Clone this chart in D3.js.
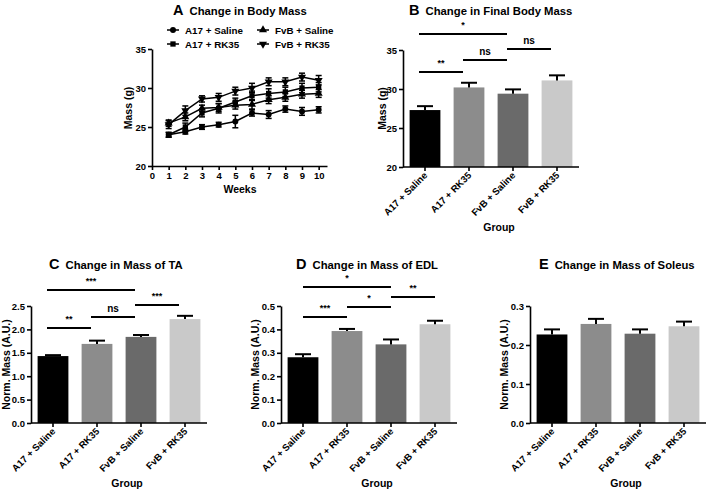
<!DOCTYPE html>
<html><head><meta charset="utf-8">
<script src="https://cdn.jsdelivr.net/npm/d3@7"></script>
<style>
body{margin:0;background:#fff;}
svg{display:block;font-family:"Liberation Sans",Arial,sans-serif;}
text{font-weight:bold;fill:#000;}
</style></head><body>
<svg id="chart" width="709" height="490"></svg>
<script>
// ---------- DATA ----------
const weeks = [1,2,3,4,5,6,7,8,9,10];
const weekTicks = [0,1,2,3,4,5,6,7,8,9,10];
const massTicks = [20,25,30,35];
const seriesNames = ["A17 + Saline","A17 + RK35","FvB + Saline","FvB + RK35"];
const a17Saline = [24.0,24.4,25.0,25.3,25.7,26.8,26.6,27.3,27.0,27.2];
const a17SalineErr = [0.3,0.3,0.3,0.3,0.8,0.4,0.5,0.4,0.5,0.4];
const a17Rk35 = [24.0,25.0,26.8,27.4,28.2,29.0,29.3,29.5,30.0,30.1];
const a17Rk35Err = [0.3,0.5,0.5,0.6,0.5,0.6,0.6,0.6,0.6,0.6];
const fvbSaline = [25.5,26.3,27.4,27.5,27.8,27.9,28.5,28.8,29.2,29.3];
const fvbSalineErr = [0.4,0.5,0.4,0.5,0.5,0.6,0.5,0.5,0.5,0.5];
const fvbRk35 = [25.3,27.1,28.6,28.8,29.6,30.0,30.8,30.8,31.4,31.0];
const fvbRk35Err = [0.5,0.6,0.4,0.5,0.5,0.6,0.5,0.5,0.5,0.6];

const groups = ["A17 + Saline","A17 + RK35","FvB + Saline","FvB + RK35"];
const finalMass = [27.3,30.2,29.4,31.1];
const finalMassErr = [0.5,0.6,0.55,0.65];
const taMass = [1.43,1.69,1.84,2.22];
const taMassErr = [0.02,0.07,0.04,0.07];
const taTicks = [0.0,0.5,1.0,1.5,2.0,2.5];
const edlMass = [0.281,0.393,0.336,0.422];
const edlMassErr = [0.013,0.009,0.021,0.015];
const edlTicks = [0.0,0.1,0.2,0.3,0.4,0.5];
const soleusMass = [0.227,0.254,0.229,0.248];
const soleusMassErr = [0.013,0.013,0.011,0.012];
const soleusTicks = [0.0,0.1,0.2,0.3];
// significance: [from group index, to group index, label]
const sigB = [[0,2,"*"],[0,1,"**"],[1,2,"ns"],[2,3,"ns"]];
const sigC = [[0,2,"***"],[0,1,"**"],[1,2,"ns"],[2,3,"***"]];
const sigD = [[0,2,"*"],[0,1,"***"],[1,2,"*"],[2,3,"**"]];
const sigE = [];
const barColors = ["#000000","#8c8c8c","#6a6a6a","#c9c9c9"];

const svg = d3.select("#chart");

function title(x, y, letter, txt){
  const t = svg.append("text").attr("x",x).attr("y",y);
  t.append("tspan").attr("font-size",14.5).text(letter);
  t.append("tspan").attr("font-size",11.3).attr("dx",6).text(txt);
}

// ---------- PANEL A ----------
(function(){
  const x = d3.scaleLinear().domain([0,10.5]).range([152,327]);
  const y = d3.scaleLinear().domain([20,35]).range([166,49]);
  const g = svg.append("g");
  const xa = g.append("g").attr("transform","translate(0,166)")
    .call(d3.axisBottom(x).tickValues(weekTicks).tickSize(4).tickPadding(2).tickSizeOuter(0));
  const ya = g.append("g").attr("transform","translate(152,0)")
    .call(d3.axisLeft(y).tickValues(massTicks).tickSize(4).tickPadding(2).tickSizeOuter(0));
  [xa,ya].forEach(a=>{a.selectAll("path,line").attr("stroke","#000").attr("stroke-width",1.6);
    a.selectAll("text").attr("font-size",9.5).attr("font-weight","bold").attr("font-family","Liberation Sans, Arial");});
  g.append("text").attr("x",240).attr("y",193).attr("text-anchor","middle").attr("font-size",10.5).text("Weeks");
  g.append("text").attr("transform","translate(132,108) rotate(-90)").attr("text-anchor","middle").attr("font-size",10.5).text("Mass (g)");
  title(173,15,"A","Change in Body Mass");

  const series = [[a17Saline,a17SalineErr],[a17Rk35,a17Rk35Err],[fvbSaline,fvbSalineErr],[fvbRk35,fvbRk35Err]];
  const syms = [d3.symbolCircle,d3.symbolSquare,d3.symbolTriangle,d3.symbolTriangle];
  const rots = [0,0,0,180];
  const line = d3.line().x((d,i)=>x(weeks[i])).y(d=>y(d));
  series.forEach((s,k)=>{
    g.append("path").attr("d",line(s[0])).attr("fill","none").attr("stroke","#000").attr("stroke-width",1.5);
    s[0].forEach((v,i)=>{
      const cx = x(weeks[i]);
      g.append("line").attr("x1",cx).attr("x2",cx).attr("y1",y(v-s[1][i])).attr("y2",y(v+s[1][i])).attr("stroke","#000").attr("stroke-width",1.5);
      [v-s[1][i],v+s[1][i]].forEach(e=>g.append("line").attr("x1",cx-3).attr("x2",cx+3).attr("y1",y(e)).attr("y2",y(e)).attr("stroke","#000").attr("stroke-width",1.5));
      g.append("path").attr("d",d3.symbol().type(syms[k]).size(28)())
        .attr("transform",`translate(${cx},${y(v)}) rotate(${rots[k]})`).attr("fill","#000");
    });
  });
  // legend
  const lp = [[167,30],[167,44],[257,30],[257,44]];
  seriesNames.forEach((n,k)=>{
    const [lx,ly] = lp[k];
    g.append("line").attr("x1",lx).attr("x2",lx+12).attr("y1",ly).attr("y2",ly).attr("stroke","#000").attr("stroke-width",1.5);
    g.append("path").attr("d",d3.symbol().type(syms[k]).size(28)()).attr("transform",`translate(${lx+6},${ly}) rotate(${rots[k]})`).attr("fill","#000");
    g.append("text").attr("x",lx+18).attr("y",ly+3.5).attr("font-size",9.8).attr("font-weight","normal").text(n);
  });
})();

// ---------- BAR PANELS ----------
function barPanel(o){
  const x = d3.scaleBand().domain(groups).range(o.xr).paddingInner(0.3).paddingOuter(0.15);
  const y = d3.scaleLinear().domain(o.yd).range(o.yr);
  const g = svg.append("g");
  const bw = x.bandwidth();
  g.selectAll("rect.bar").data(o.vals).join("rect")
    .attr("x",(d,i)=>x(groups[i])).attr("width",bw)
    .attr("y",d=>y(d)).attr("height",d=>y(o.yd[0])-y(d))
    .attr("fill",(d,i)=>barColors[i]);
  o.vals.forEach((v,i)=>{
    const cx = x(groups[i])+bw/2;
    g.append("line").attr("x1",cx).attr("x2",cx).attr("y1",y(v)).attr("y2",y(v+o.errs[i])).attr("stroke","#000").attr("stroke-width",2);
    g.append("line").attr("x1",cx-8).attr("x2",cx+8).attr("y1",y(v+o.errs[i])).attr("y2",y(v+o.errs[i])).attr("stroke","#000").attr("stroke-width",2);
  });
  const xa = g.append("g").attr("transform",`translate(0,${o.yr[0]})`)
    .call(d3.axisBottom(x).tickSize(4).tickSizeOuter(0).tickFormat(""));
  xa.select("path").attr("d",`M${o.xr[0]},0H${o.xr[1]}`);
  const ya = g.append("g").attr("transform",`translate(${o.xr[0]},0)`)
    .call(d3.axisLeft(y).tickValues(o.ticks).tickSize(4).tickPadding(2).tickSizeOuter(0).tickFormat(o.fmt));
  [xa,ya].forEach(a=>{a.selectAll("path,line").attr("stroke","#000").attr("stroke-width",1.6);
    a.selectAll("text").attr("font-size",9.5).attr("font-weight","bold").attr("font-family","Liberation Sans, Arial");});
  groups.forEach((gn,i)=>{
    const cx = x(gn)+bw/2+3;
    g.append("text").attr("transform",`translate(${cx},${o.yr[0]+9}) rotate(-45)`)
      .attr("text-anchor","end").attr("font-size",9.6).text(gn);
  });
  const mx = (o.xr[0]+o.xr[1])/2;
  g.append("text").attr("x",mx+8).attr("y",o.groupY).attr("text-anchor","middle").attr("font-size",10.5).text("Group");
  g.append("text").attr("transform",`translate(${o.ylx},${(o.yr[0]+o.yr[1])/2}) rotate(-90)`).attr("text-anchor","middle").attr("font-size",10.5).text(o.ylabel);
  o.sig.forEach((s,k)=>{
    const x1 = x(groups[s[0]])+bw/2+o.sshift, x2 = x(groups[s[1]])+bw/2+o.sshift;
    const ly = o.sigY[k];
    g.append("line").attr("x1",x1).attr("x2",x2).attr("y1",ly).attr("y2",ly).attr("stroke","#000").attr("stroke-width",2);
    g.append("text").attr("x",(x1+x2)/2).attr("y",ly-(s[2]==="ns"?5:6)).attr("text-anchor","middle")
      .attr("font-size",s[2]==="ns"?10:9).attr("font-weight","normal").text(s[2]);
  });
  title(o.tx,o.ty,o.letter,o.title);
}

barPanel({xr:[403,579],yd:[20,35],yr:[167,50],vals:finalMass,errs:finalMassErr,ticks:massTicks,fmt:d3.format("d"),
  groupY:231,ylx:386,ylabel:"Mass (g)",sig:sigB,sigY:[34,72,60,49],sshift:-6,
  tx:409,ty:15,letter:"B",title:"Change in Final Body Mass"});
barPanel({xr:[31,207],yd:[0,2.5],yr:[423,306],vals:taMass,errs:taMassErr,ticks:taTicks,fmt:d3.format(".1f"),
  groupY:487,ylx:10,ylabel:"Norm. Mass (A.U.)",sig:sigC,sigY:[290,328,317,305],sshift:-6,
  tx:49,ty:269,letter:"C",title:"Change in Mass of TA"});
barPanel({xr:[281,457],yd:[0,0.5],yr:[423,306],vals:edlMass,errs:edlMassErr,ticks:edlTicks,fmt:d3.format(".1f"),
  groupY:487,ylx:259,ylabel:"Norm. Mass (A.U.)",sig:sigD,sigY:[287,317,307,297],sshift:0,
  tx:296,ty:269,letter:"D",title:"Change in Mass of EDL"});
barPanel({xr:[530,706],yd:[0,0.3],yr:[423,306],vals:soleusMass,errs:soleusMassErr,ticks:soleusTicks,fmt:d3.format(".1f"),
  groupY:487,ylx:508,ylabel:"Norm. Mass (A.U.)",sig:sigE,sigY:[],sshift:0,
  tx:539,ty:269,letter:"E",title:"Change in Mass of Soleus"});
</script></body></html>
